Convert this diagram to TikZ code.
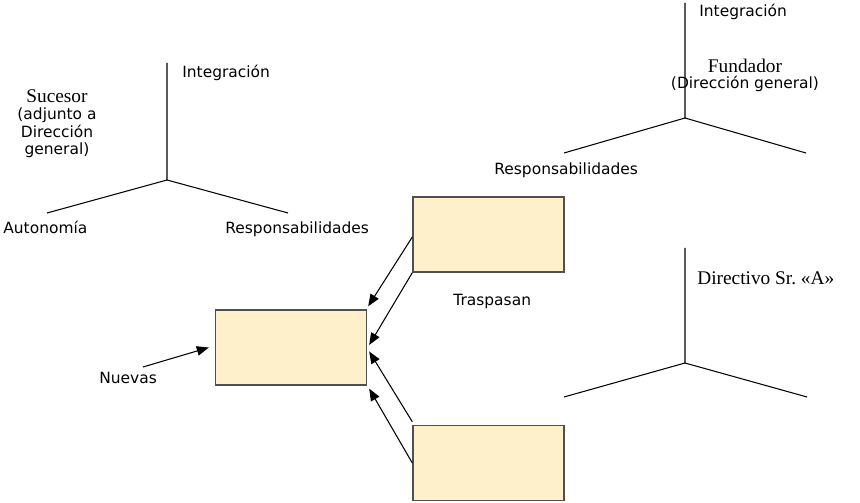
\documentclass[tikz,border=0pt]{standalone}
\usepackage{fontspec}
\newfontfamily\labelsans{DejaVu Sans}
\newfontfamily\labelserif{Liberation Serif}
\usetikzlibrary{arrows.meta}
\definecolor{boxfill}{HTML}{FFF0CC}
\definecolor{boxline}{HTML}{505050}
\tikzset{
    % Cream boxes
    block/.style={
        rectangle,
        draw=boxline,
        fill=boxfill,
        line width=0.8pt,
        minimum width=3.02cm,
        minimum height=1.5cm,
        inner sep=0pt
    },
    % Axis lines
    axis/.style={line width=0.6pt, black},
    % Arrows into the middle box
    flow/.style={
        -{Triangle[length=2.4mm, width=1.9mm]},
        line width=0.6pt
    },
    % Sans labels
    axis label/.style={
        font=\labelsans\fontsize{8.8}{10}\selectfont,
        inner sep=0pt,
        anchor=base west
    },
    % Serif role labels
    role label/.style={
        font=\labelserif\fontsize{11}{10}\selectfont,
        inner sep=0pt,
        align=center
    }
}
\newcommand{\sanstext}{\labelsans\fontsize{8.8}{10}\selectfont}
\begin{document}
\begin{tikzpicture}[x=0.02cm, y=-0.02cm]
    \useasboundingbox (0,0) rectangle (860,503);

    % Sucesor axes
    \coordinate (suc) at (167,180);
    \coordinate (suc up) at (167,63);
    \coordinate (suc left) at (47,213);
    \coordinate (suc right) at (288,213);
    \draw[axis] (suc up) -- (suc) -- (suc left);
    \draw[axis] (suc) -- (suc right);
    \node[axis label] (suc int) at (182,78) {Integración};
    \node[axis label] (suc aut) at (3,234) {Autonomía};
    \node[axis label] (suc resp) at (225,234) {Responsabilidades};
    \node[role label, anchor=north] (sucesor) at (57,89)
        {Sucesor\\\sanstext(adjunto a\\\sanstext Dirección\\\sanstext general)};

    % Fundador axes
    \coordinate (fun) at (685,118);
    \coordinate (fun up) at (685,3);
    \coordinate (fun left) at (564,153);
    \coordinate (fun right) at (806,153);
    \draw[axis] (fun up) -- (fun) -- (fun left);
    \draw[axis] (fun) -- (fun right);
    \node[axis label] (fun int) at (699,17) {Integración};
    \node[axis label] (fun resp) at (494,175) {Responsabilidades};
    \node[role label, anchor=north] (fundador) at (745,59)
        {Fundador\\[-1pt]\sanstext(Dirección general)};

    % Directivo axes
    \coordinate (dir) at (685,363);
    \coordinate (dir up) at (685,248);
    \coordinate (dir left) at (564,397);
    \coordinate (dir right) at (807,397);
    \draw[axis] (dir up) -- (dir) -- (dir left);
    \draw[axis] (dir) -- (dir right);
    \node[role label, anchor=base west] (directivo) at (697,285) {Directivo Sr.\ «A»};

    % Boxes
    \node[block] (top) at (488.5,234.5) {};
    \node[block] (mid) at (291,347.5) {};
    \node[block] (bot) at (488.5,463) {};

    % Traspasan
    \draw[flow] ([yshift=-0.05cm]top.west) -- ([xshift=0.02cm, yshift=0.06cm]mid.north east);
    \draw[flow] (top.south west) -- ([xshift=0.04cm, yshift=0.05cm]mid.east);
    \draw[flow] ([yshift=0.06cm]bot.north west) -- ([xshift=0.04cm, yshift=-0.08cm]mid.east);
    \draw[flow] (bot.west) -- ([xshift=0.04cm, yshift=-0.06cm]mid.south east);
    \node[axis label] (traspasan) at (453,306) {Traspasan};

    % Nuevas
    \coordinate (nuevas tail) at (143,367);
    \draw[flow] (nuevas tail) -- ([xshift=-0.12cm]mid.west);
    \node[axis label] (nuevas) at (99,384) {Nuevas};
\end{tikzpicture}
\end{document}
